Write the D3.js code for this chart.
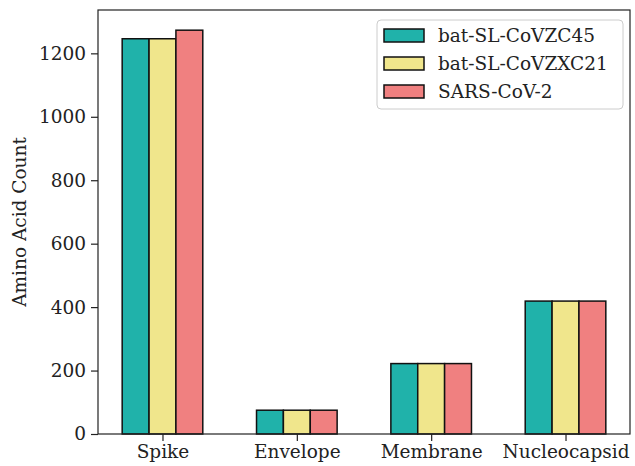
<!DOCTYPE html>
<html>
<head>
<meta charset="utf-8">
<script src="https://cdn.jsdelivr.net/npm/d3@7"></script>
<style>
  body { margin: 0; background: #fff; }
  text { font-family: "DejaVu Serif", serif; fill: #222; }
</style>
</head>
<body>
<div id="chart"></div>
<script>
var categories = ["Spike", "Envelope", "Membrane", "Nucleocapsid"];
var seriesNames = ["bat-SL-CoVZC45", "bat-SL-CoVZXC21", "SARS-CoV-2"];
var zc45 = [1246, 75, 222, 419];
var zxc21 = [1246, 75, 222, 419];
var sars2 = [1273, 75, 222, 419];
var yTicks = [0, 200, 400, 600, 800, 1000, 1200];
var colors = ["#20b2aa", "#f0e68c", "#f08080"];

var series = [zc45, zxc21, sars2];

var margin = {top: 10, right: 5, bottom: 32, left: 98},
    width = 635 - margin.left - margin.right,
    height = 466 - margin.top - margin.bottom;

var svg = d3.select("#chart")
  .append("svg")
    .attr("width", 635)
    .attr("height", 466)
  .append("g")
    .attr("transform", "translate(" + margin.left + "," + margin.top + ")");

// x is linear in category index, like matplotlib
var x = d3.scaleLinear()
  .domain([-0.48, categories.length - 1 + 0.48])
  .range([0, width]);

var ymax = d3.max(series, function(s) { return d3.max(s); }) * 1.05;
var y = d3.scaleLinear()
  .domain([0, ymax])
  .range([height, 0]);

var barW = 0.2;

series.forEach(function(vals, si) {
  svg.selectAll(".bar" + si)
    .data(vals)
    .enter().append("rect")
      .attr("x", function(d, i) { return x(i + (si - 1) * barW - barW / 2); })
      .attr("y", function(d) { return y(d); })
      .attr("width", x(barW) - x(0))
      .attr("height", function(d) { return y(0) - y(d); })
      .attr("fill", colors[si])
      .attr("stroke", "#111")
      .attr("stroke-width", 1.5);
});

// axes
var xAxis = svg.append("g")
  .attr("transform", "translate(0," + height + ")")
  .call(d3.axisBottom(x).tickValues(d3.range(categories.length))
    .tickFormat(function(d) { return categories[d]; })
    .tickSize(7).tickPadding(4));

var yAxis = svg.append("g")
  .call(d3.axisLeft(y).tickValues(yTicks).tickFormat(d3.format("d"))
    .tickSize(7).tickPadding(5));

[xAxis, yAxis].forEach(function(a) {
  a.select(".domain").remove();
  a.selectAll("line").attr("stroke", "#222").attr("stroke-width", 1.2);
  a.selectAll("text").style("font-size", "18.5px").style("font-family", "DejaVu Serif");
});

// frame
svg.append("rect")
  .attr("width", width)
  .attr("height", height)
  .attr("fill", "none")
  .attr("stroke", "#222")
  .attr("stroke-width", 1.2);

svg.append("text")
  .attr("transform", "rotate(-90)")
  .attr("x", -height / 2)
  .attr("y", -72)
  .attr("text-anchor", "middle")
  .style("font-size", "18.5px")
  .text("Amino Acid Count");

// legend
var legend = svg.append("g")
  .attr("transform", "translate(" + (377 - margin.left) + "," + (20 - margin.top) + ")");

legend.append("rect")
  .attr("width", 246)
  .attr("height", 89)
  .attr("rx", 4)
  .attr("fill", "#fff")
  .attr("fill-opacity", 0.8)
  .attr("stroke", "#ccc");

seriesNames.forEach(function(name, i) {
  var g = legend.append("g").attr("transform", "translate(0," + (15 + i * 28) + ")");
  g.append("rect")
    .attr("x", 7)
    .attr("y", -6)
    .attr("width", 40)
    .attr("height", 13)
    .attr("fill", colors[i])
    .attr("stroke", "#111")
    .attr("stroke-width", 1.5);
  g.append("text")
    .attr("x", 61)
    .attr("y", 7)
    .style("font-size", "18.5px")
    .text(name);
});
</script>
</body>
</html>
